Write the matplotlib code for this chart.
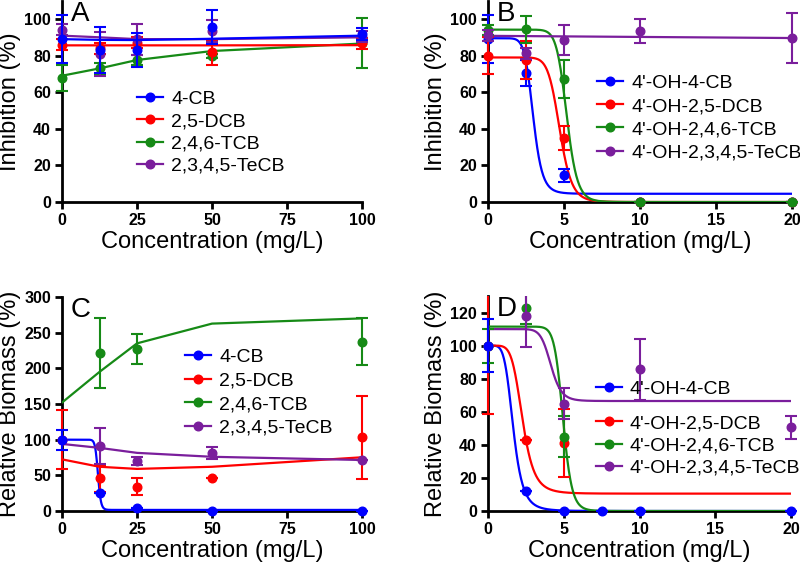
import numpy as np
import matplotlib
matplotlib.use('Agg')
import matplotlib.pyplot as plt
from matplotlib.lines import Line2D
from matplotlib.transforms import Bbox, TransformedBbox

plt.rcParams['font.family'] = ['Liberation Sans', 'DejaVu Sans']

colors = ['#0000ff', '#ff0000', '#168a16', '#7a1e9c']

# ---------------- Panel A ----------------
a_labels = ['4-CB', '2,5-DCB', '2,4,6-TCB', '2,3,4,5-TeCB']
a_x = [0, 12.5, 25, 50, 100]
a_blue = [89, 83, 83, 95.8, 91.6]
a_blue_err = [13, 12.7, 9.5, 9.3, 3.3]
a_red = [86, 84, 87, 81.8, 86.7]
a_red_err = [3, 3, 3, 6.8, 3]
a_green = [67.7, 73, 77.6, 79.7, 87]
a_green_err = [6.9, 2.9, 2.6, 1.2, 13.7]
a_purple = [94, 81, 89, 93.6, 90.3]
a_purple_err = [3, 12, 8.5, 6.1, 3]
a_blue_line = [89, 88.6, 88.5, 89.2, 90.9]
a_red_line = [85.6, 85.6, 85.6, 85.6, 85.7]
a_green_line = [69, 73, 77.6, 82.5, 86.6]
a_purple_line = [90.9, 90, 89, 89, 90]

# ---------------- Panel B ----------------
b_labels = ["4'-OH-4-CB", "4'-OH-2,5-DCB", "4'-OH-2,4,6-TCB", "4'-OH-2,3,4,5-TeCB"]
b_x = [0, 2.5, 5, 10, 20]
b_blue = [89, 70.6, 14.6, 0, 0]
b_blue_err = [13, 7, 3.5, 0, 0]
b_red = [80, 77.5, 35, 0, 0]
b_red_err = [10, 10.5, 6.7, 0, 0]
b_green = [94, 94.3, 67, 0, 0]
b_green_err = [2.5, 7.5, 10.4, 0, 0]
b_purple = [91, 81.2, 88.5, 93.4, 89.4]
b_purple_err = [3, 3, 8, 6.7, 13.7]
# four-parameter logistic fits: top, bottom, EC50, Hill slope
b_fit_top = [89.5, 79, 94.2]
b_fit_bottom = [4.5, 0, 0]
b_fit_ec50 = [2.97, 4.72, 5.18]
b_fit_hill = [10, 12, 15]
b_purple_line_x = [0, 20]
b_purple_line = [90.8, 89.6]

# ---------------- Panel C ----------------
c_labels = a_labels
c_x = [0, 12.5, 25, 50, 100]
c_blue = [99.5, 24.8, 3.7, 0, 0]
c_blue_err = [14, 0, 0, 0, 0]
c_red = [100, 45.8, 34, 46, 103.3]
c_red_err = [41.6, 18.7, 11.7, 0, 58]
c_green_x = [12.5, 25, 100]
c_green = [221.6, 227, 237]
c_green_err = [49.5, 21.5, 33]
c_purple_x = [12.5, 25, 50, 100]
c_purple = [91, 70.6, 80.7, 71.4]
c_purple_err = [25, 5.5, 8.5, 0]
c_red_line = [72.4, 62, 59, 62, 75.3]
c_green_line = [152, 195, 235, 262.7, 270]
c_purple_line = [94, 88.5, 81.5, 76, 71.5]
c_blue_fit = [100, 1.5, 12, 25]   # top, bottom, EC50, Hill

# ---------------- Panel D ----------------
d_labels = b_labels
d_blue_x = [0, 2.5, 5, 7.5, 10, 20]
d_blue = [100, 12, 0, 0, 0, 0]
d_blue_err = [16, 0, 0, 0, 0, 0]
d_red_x = [0, 2.5, 5]
d_red = [100, 42.8, 41]
d_red_err = [41.5, 0, 20.5]
d_green_x = [0, 2.5, 5]
d_green = [100, 122.6, 45]
d_green_err = [10.3, 9.3, 12.3]
d_purple_x = [2.5, 5, 10, 20]
d_purple = [118, 65, 85.7, 50.6]
d_purple_err = [18.6, 9.2, 18.5, 7.1]
d_fit_top = [100, 100, 111.5, 110]
d_fit_bottom = [0, 10.5, 0, 66.5]
d_fit_ec50 = [1.67, 2.28, 4.95, 4.15]
d_fit_hill = [5.3, 6, 17, 12]


def logistic(x, top, bottom, ec50, hill):
    return bottom + (top - bottom) / (1.0 + (x / ec50) ** hill)


fig = plt.figure(figsize=(8, 5.71), dpi=100)
axA = fig.add_axes([0.0775, 0.64623, 0.375, 0.35254])
axB = fig.add_axes([0.61, 0.64623, 0.38, 0.35254])
axC = fig.add_axes([0.0775, 0.10508, 0.375, 0.37478])
axD = fig.add_axes([0.61, 0.10508, 0.37875, 0.37653])

MS = 6.2
LW = 1.6


def style(ax, xlim, ylim, xticks, yticks, ylabel, letter):
    ax.set_xlim(*xlim)
    ax.set_ylim(*ylim)
    ax.set_xticks(xticks)
    ax.set_yticks(yticks)
    for s in ['top', 'right']:
        ax.spines[s].set_visible(False)
    for s in ['left', 'bottom']:
        ax.spines[s].set_linewidth(2)
    ax.tick_params(direction='out', length=5, width=2, labelsize=11.5, pad=3)
    for lab in ax.get_xticklabels() + ax.get_yticklabels():
        lab.set_fontweight('bold')
    ax.set_xlabel('Concentration (mg/L)', fontsize=17, labelpad=2)
    ax.set_ylabel(ylabel, fontsize=17, labelpad=2)
    ax.text(0.03, 1.0, letter, transform=ax.transAxes, fontsize=20,
            va='top', ha='left')
    ax.set_facecolor('none')


def points(ax, x, y, err, color, z):
    eb = ax.errorbar(x, y, yerr=err, fmt='o', color=color, ms=MS,
                     elinewidth=1.5, capsize=4, capthick=1.5, zorder=z)
    clip = TransformedBbox(Bbox([[-0.2, -0.2], [1.2, 1.0]]), ax.transAxes)
    eb.lines[0].set_clip_on(False)
    for art in list(eb.lines[1]) + list(eb.lines[2]):
        art.set_clip_box(clip)
        art.set_clip_on(True)


def legend(ax, labels, cols, anchor, spacing=0.26, hl=1.35):
    handles = [Line2D([], [], color=c, lw=LW, marker='o', ms=MS) for c in cols]
    lg = ax.legend(handles, labels, loc='upper left', bbox_to_anchor=anchor,
                   frameon=False, fontsize=14, borderpad=0, borderaxespad=0,
                   handlelength=hl, handletextpad=0.4, labelspacing=spacing,
                   numpoints=1)
    return lg


# ---- A ----
for i, (ln, pts, er) in enumerate(zip([a_blue_line, a_red_line, a_green_line, a_purple_line],
                                      [a_blue, a_red, a_green, a_purple],
                                      [a_blue_err, a_red_err, a_green_err, a_purple_err])):
    z = [5, 4, 3, 4.5][i]
    axA.plot(a_x, ln, color=colors[i], lw=LW, zorder=z)
    points(axA, a_x, pts, er, colors[i], z)
style(axA, (0, 100), (0, 110), [0, 25, 50, 75, 100], range(0, 101, 20),
      'Inhibition (%)', 'A')
legend(axA, a_labels, colors, (0.25, 0.555), spacing=0.24)

# ---- B ----
xs = np.linspace(0, 20, 600)
for i in range(3):
    axB.plot(xs, logistic(xs, b_fit_top[i], b_fit_bottom[i], b_fit_ec50[i], b_fit_hill[i]),
             color=colors[i], lw=LW, zorder=3 + i * 0.1)
axB.plot(b_purple_line_x, b_purple_line, color=colors[3], lw=LW, zorder=3.3)
for i, (pts, er) in enumerate(zip([b_blue, b_red, b_green, b_purple],
                                  [b_blue_err, b_red_err, b_green_err, b_purple_err])):
    points(axB, b_x, pts, er, colors[i], 4 + i * 0.1)
style(axB, (0, 20), (0, 110), [0, 5, 10, 15, 20], range(0, 101, 20),
      'Inhibition (%)', 'B')
legend(axB, b_labels, colors, (0.3586, 0.633), spacing=0.28)

# ---- C ----
xs = np.linspace(0, 100, 1000)
axC.plot(xs, logistic(xs, *c_blue_fit), color=colors[0], lw=LW, zorder=3)
axC.plot(c_x, c_red_line, color=colors[1], lw=LW, zorder=3)
axC.plot(c_x, c_green_line, color=colors[2], lw=LW, zorder=3)
axC.plot(c_x, c_purple_line, color=colors[3], lw=LW, zorder=3)
points(axC, c_x, c_red, c_red_err, colors[1], 4)
points(axC, c_green_x, c_green, c_green_err, colors[2], 4)
points(axC, c_purple_x, c_purple, c_purple_err, colors[3], 4)
points(axC, c_x, c_blue, c_blue_err, colors[0], 5)
style(axC, (0, 100), (0, 300), [0, 25, 50, 75, 100], range(0, 301, 50),
      'Relative Biomass (%)', 'C')
legend(axC, c_labels, colors, (0.41, 0.761), spacing=0.31)

# ---- D ----
xs = np.linspace(0, 20, 800)
for i in range(4):
    axD.plot(xs, logistic(xs, d_fit_top[i], d_fit_bottom[i], d_fit_ec50[i], d_fit_hill[i]),
             color=colors[i], lw=LW, zorder=3)
points(axD, d_red_x, d_red, d_red_err, colors[1], 4)
points(axD, d_green_x, d_green, d_green_err, colors[2], 4.1)
points(axD, d_purple_x, d_purple, d_purple_err, colors[3], 4.2)
points(axD, d_blue_x, d_blue, d_blue_err, colors[0], 5)
style(axD, (0, 20), (0, 130), [0, 5, 10, 15, 20], range(0, 121, 20),
      'Relative Biomass (%)', 'D')
lg1 = legend(axD, d_labels[:1], colors[:1], (0.356, 0.607))
axD.add_artist(lg1)
legend(axD, d_labels[1:], colors[1:], (0.356, 0.448), spacing=0.24)

fig.savefig('out.png', dpi=100)
